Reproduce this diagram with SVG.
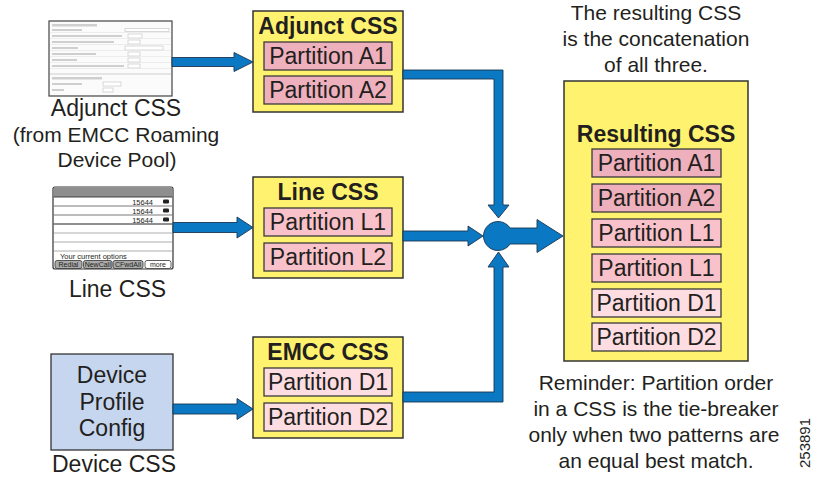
<svg xmlns="http://www.w3.org/2000/svg" width="814" height="477" viewBox="0 0 814 477">
<style>
text{font-family:"Liberation Sans",Arial,Helvetica,sans-serif;fill:#231f20}
.lbl{font-size:23px;text-anchor:middle}
.sub{font-size:21px;text-anchor:middle}
.ttl{font-size:23px;font-weight:bold;text-anchor:middle}
.css{fill:#fff26e;stroke:#333;stroke-width:1.5}
.pa{fill:#eeb0bc;stroke:#3a3a3a;stroke-width:1.3}
.pl{fill:#f9c2ca;stroke:#3a3a3a;stroke-width:1.3}
.pd{fill:#fddde2;stroke:#3a3a3a;stroke-width:1.3}
.ptx{font-size:23px;text-anchor:middle}
.arr{fill:#0a78c2;stroke:#1c3550;stroke-width:0.9;stroke-linejoin:miter}
.note{font-size:21px;text-anchor:middle}
.ph{font-size:7.5px}
.sk{font-size:7px;text-anchor:middle}
.key{stroke:#333;stroke-width:0.8}
.row{fill:#cfcfcf}
.fld{fill:#fff;stroke:#c8c8c8;stroke-width:0.7}
</style>

<g id="adjunct-screenshot">
<rect x="49" y="21" width="123" height="75" fill="#fbfbfb" stroke="#444" stroke-width="1.2"/>
<rect x="52" y="24" width="45" height="2.5" class="row"/>
<rect x="52" y="29" width="30" height="2" class="row"/>
<rect x="125" y="28.5" width="44" height="3" class="fld"/>
<rect x="52" y="35" width="70" height="2" class="row"/>
<rect x="128" y="34" width="14" height="4" class="fld"/>
<rect x="52" y="41" width="62" height="2" class="row"/>
<rect x="128" y="40" width="12" height="4" class="fld"/>
<rect x="52" y="47" width="26" height="2" class="row"/>
<rect x="125" y="46" width="38" height="4" class="fld"/>
<rect x="52" y="53" width="44" height="2" class="row"/>
<rect x="128" y="52" width="12" height="4" class="fld"/>
<rect x="52" y="59" width="25" height="2" class="row"/>
<rect x="128" y="58" width="12" height="4" class="fld"/>
<rect x="52" y="65" width="72" height="2" class="row"/>
<rect x="128" y="64" width="12" height="4" class="fld"/>
<line x1="50" y1="74" x2="171" y2="74" stroke="#bbb" stroke-width="0.7"/>
<rect x="52" y="77" width="50" height="2.5" class="row"/>
<rect x="52" y="83" width="30" height="2" class="row"/>
<rect x="103" y="82" width="18" height="4" class="fld"/>
<rect x="52" y="89" width="12" height="2" class="row"/>
<rect x="103" y="88" width="10" height="4" class="fld"/>
<line x1="50" y1="32.5" x2="171" y2="32.5" stroke="#e4e4e4" stroke-width="0.6"/>
<line x1="50" y1="38.5" x2="171" y2="38.5" stroke="#e4e4e4" stroke-width="0.6"/>
<line x1="50" y1="44.5" x2="171" y2="44.5" stroke="#e4e4e4" stroke-width="0.6"/>
<line x1="50" y1="50.5" x2="171" y2="50.5" stroke="#e4e4e4" stroke-width="0.6"/>
<line x1="50" y1="56.5" x2="171" y2="56.5" stroke="#e4e4e4" stroke-width="0.6"/>
<line x1="50" y1="62.5" x2="171" y2="62.5" stroke="#e4e4e4" stroke-width="0.6"/>
<line x1="50" y1="68.5" x2="171" y2="68.5" stroke="#e4e4e4" stroke-width="0.6"/>
</g>
<g id="adjunct-label">
<text class="lbl" x="116" y="116">Adjunct CSS</text>
<text class="sub" x="116" y="142">(from EMCC Roaming</text>
<text class="sub" x="117" y="167">Device Pool)</text>
</g>

<g id="phone-screenshot">
<rect x="53" y="187" width="120" height="82" rx="2" fill="#fff" stroke="#333" stroke-width="1.2"/>
<path d="M55,187.6 H171 Q172.4,187.6 172.4,189 V197 H53.6 V189 Q53.6,187.6 55,187.6 Z" fill="#8e8e8e"/>
<line x1="53.6" y1="197" x2="172.4" y2="197" stroke="#333" stroke-width="0.9"/>
<line x1="53.6" y1="206" x2="172.4" y2="206" stroke="#555" stroke-width="0.8"/>
<line x1="53.6" y1="215" x2="172.4" y2="215" stroke="#555" stroke-width="0.8"/>
<line x1="53.6" y1="224" x2="172.4" y2="224" stroke="#222" stroke-width="1.2"/>
<line x1="53.6" y1="233" x2="172.4" y2="233" stroke="#777" stroke-width="0.6"/>
<line x1="53.6" y1="242" x2="172.4" y2="242" stroke="#777" stroke-width="0.6"/>
<line x1="53.6" y1="251" x2="172.4" y2="251" stroke="#777" stroke-width="0.6"/>
<text class="ph" x="153" y="204.5" text-anchor="end">15644</text>
<text class="ph" x="153" y="213.5" text-anchor="end">15644</text>
<text class="ph" x="153" y="222.5" text-anchor="end">15644</text>
<rect x="163" y="199.5" width="6" height="4" rx="1.2" fill="#222"/>
<rect x="163" y="208.5" width="6" height="4" rx="1.2" fill="#222"/>
<rect x="163" y="217.5" width="6" height="4" rx="1.2" fill="#222"/>
<text class="ph" x="60" y="258.5">Your current options</text>
<rect x="55" y="260.5" width="27" height="8" rx="2" class="key" fill="#ababab"/>
<rect x="83.5" y="260.5" width="28.5" height="8" rx="2" class="key" fill="#ababab"/>
<rect x="113" y="260.5" width="30" height="8" rx="2" class="key" fill="#ababab"/>
<rect x="145" y="260.5" width="26" height="8" rx="2" class="key" fill="#fff"/>
<text class="sk" x="68.5" y="267">Redial</text>
<text class="sk" x="97.7" y="267">NewCall</text>
<text class="sk" x="128" y="267">CFwdAll</text>
<text class="sk" x="158" y="266.5">more</text>
</g>
<g id="line-label">
<text class="lbl" x="117.5" y="297">Line CSS</text>
</g>

<g id="device-profile">
<rect x="51" y="354" width="122" height="96" fill="#c6d6ef" stroke="#333" stroke-width="1.3"/>
<text class="lbl" x="112" y="383">Device</text>
<text class="lbl" x="112" y="410">Profile</text>
<text class="lbl" x="112" y="436">Config</text>
<text class="lbl" x="114" y="472">Device CSS</text>
</g>

<g id="adjunct-css">
<rect class="css" x="253" y="11" width="150" height="101"/>
<text class="ttl" x="328" y="34">Adjunct CSS</text>
<rect class="pa" x="264" y="42" width="128" height="28"/>
<text class="ptx" x="328" y="64">Partition A1</text>
<rect class="pa" x="264" y="76" width="128" height="28"/>
<text class="ptx" x="328" y="98">Partition A2</text>
</g>

<g id="line-css">
<rect class="css" x="253" y="177" width="150" height="101"/>
<text class="ttl" x="328" y="200">Line CSS</text>
<rect class="pl" x="264" y="208" width="128" height="28"/>
<text class="ptx" x="328" y="230">Partition L1</text>
<rect class="pl" x="264" y="243" width="128" height="28"/>
<text class="ptx" x="328" y="265">Partition L2</text>
</g>

<g id="emcc-css">
<rect class="css" x="253" y="337" width="150" height="101"/>
<text class="ttl" x="328" y="360">EMCC CSS</text>
<rect class="pd" x="264" y="368" width="128" height="28"/>
<text class="ptx" x="328" y="390">Partition D1</text>
<rect class="pd" x="264" y="403" width="128" height="28"/>
<text class="ptx" x="328" y="425">Partition D2</text>
</g>

<g id="resulting-css">
<rect class="css" x="564" y="81" width="184" height="280"/>
<text class="ttl" x="656" y="142">Resulting CSS</text>
<rect class="pa" x="592" y="149" width="129" height="28"/>
<text class="ptx" x="656.5" y="171">Partition A1</text>
<rect class="pa" x="592" y="184" width="129" height="28"/>
<text class="ptx" x="656.5" y="206">Partition A2</text>
<rect class="pl" x="592" y="219" width="129" height="28"/>
<text class="ptx" x="656.5" y="241">Partition L1</text>
<rect class="pl" x="592" y="254" width="129" height="28"/>
<text class="ptx" x="656.5" y="276">Partition L1</text>
<rect class="pd" x="592" y="289" width="129" height="28"/>
<text class="ptx" x="656.5" y="311">Partition D1</text>
<rect class="pd" x="592" y="323" width="129" height="28"/>
<text class="ptx" x="656.5" y="345">Partition D2</text>
</g>

<g id="connectors">
<polygon class="arr" points="172,57.5 234,57.5 234,52.5 253,62 234,71.5 234,66.5 172,66.5"/>
<polygon class="arr" points="173,222.5 237,222.5 237,217 253,227.5 237,238 237,232.5 173,232.5"/>
<polygon class="arr" points="173,404 237,404 237,398.5 253,409 237,419.5 237,414 173,414"/>
<polygon class="arr" points="403,70 503,70 503,205 509,205 498.5,218 488,205 494,205 494,79 403,79"/>
<polygon class="arr" points="403,231 468,231 468,226 483,236 468,246 468,241 403,241"/>
<polygon class="arr" points="403,392 494,392 494,267 488,267 498.5,252 509,267 503,267 503,402 403,402"/>
<path class="arr" d="M510.1,228 L537,228 L537,219.5 L563,236 L537,252.5 L537,244 L510.1,244 A14.5,14.5 0 1 1 510.1,228 Z"/>
</g>

<g id="notes">
<text class="note" x="656" y="20">The resulting CSS</text>
<text class="note" x="656" y="46">is the concatenation</text>
<text class="note" x="656" y="72">of all three.</text>
<text class="note" x="656" y="390">Reminder: Partition order</text>
<text class="note" x="656" y="416">in a CSS is the tie-breaker</text>
<text class="note" x="654" y="442">only when two patterns are</text>
<text class="note" x="656" y="468">an equal best match.</text>
<text x="0" y="0" font-size="15" text-anchor="middle" transform="translate(810,443) rotate(-90)">253891</text>
</g>
</svg>
